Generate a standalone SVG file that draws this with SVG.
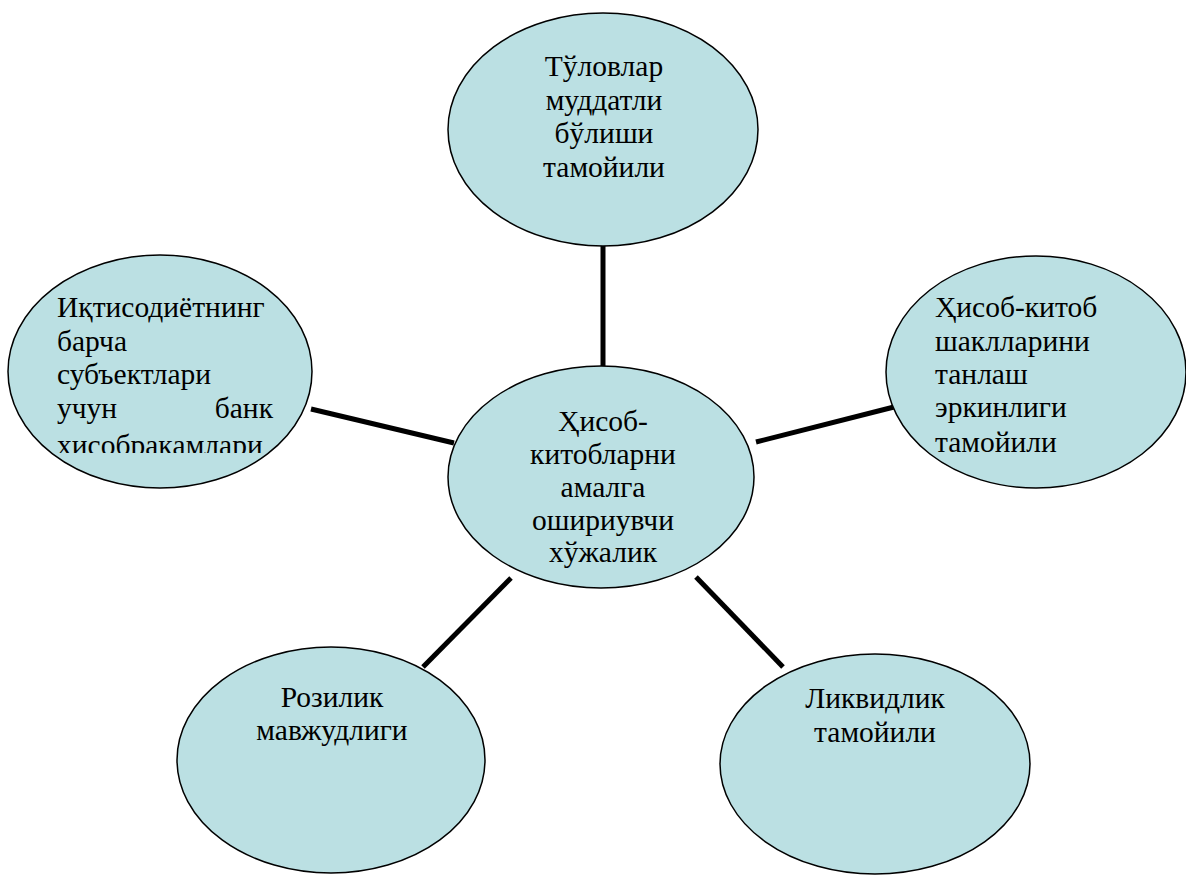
<svg xmlns="http://www.w3.org/2000/svg" width="1186" height="875" viewBox="0 0 1186 875">
<style>
.node ellipse{fill:#bbe0e3;stroke:#000;stroke-width:1.5}
.conn line{stroke:#000;stroke-width:5}
text{font-family:"Liberation Serif","Times New Roman",serif;font-size:29.5px;fill:#000}
.c{text-anchor:middle}
</style>
<defs>
<clipPath id="clipL"><rect x="0" y="280" width="330" height="173"/></clipPath>
<clipPath id="clipR"><rect x="880" y="280" width="306" height="175"/></clipPath>
</defs>
<rect width="1186" height="875" fill="#fff"/>
<g id="connectors" class="conn">
<line x1="603" y1="245" x2="603" y2="366"/>
<line x1="311" y1="409" x2="454" y2="443"/>
<line x1="756" y1="442" x2="894" y2="407"/>
<line x1="511" y1="578" x2="423" y2="667"/>
<line x1="696" y1="577" x2="783" y2="667"/>
</g>
<g id="node-top" class="node">
<ellipse cx="603" cy="129.5" rx="155" ry="116.5"/>
<text class="c" x="604" y="76">Тўловлар</text>
<text class="c" x="604" y="110">муддатли</text>
<text class="c" x="604" y="143">бўлиши</text>
<text class="c" x="604" y="177">тамойили</text>
</g>
<g id="node-left" class="node">
<ellipse cx="160" cy="371.5" rx="152" ry="116.5"/>
<g clip-path="url(#clipL)">
<text x="57" y="317">Иқтисодиётнинг</text>
<text x="57" y="350.5">барча</text>
<text x="57" y="384">субъектлари</text>
<text x="57" y="417.5">учун</text>
<text x="273" y="417.5" text-anchor="end">банк</text>
<text x="57" y="455">ҳисобрақамлари</text>
</g>
</g>
<g id="node-right" class="node">
<ellipse cx="1036" cy="372" rx="150" ry="116"/>
<g clip-path="url(#clipR)">
<text x="935" y="317">Ҳисоб-китоб</text>
<text x="935" y="351">шаклларини</text>
<text x="935" y="384">танлаш</text>
<text x="935" y="417">эркинлиги</text>
<text x="935" y="452">тамойили</text>
</g>
</g>
<g id="node-center" class="node">
<ellipse cx="601" cy="477" rx="153" ry="111"/>
<text class="c" x="603" y="431">Ҳисоб-</text>
<text class="c" x="603" y="464">китобларни</text>
<text class="c" x="603" y="497">амалга</text>
<text class="c" x="603" y="530">ошириувчи</text>
<text class="c" x="603" y="562">хўжалик</text>
</g>
<g id="node-bottom-left" class="node">
<ellipse cx="331" cy="760" rx="154" ry="113"/>
<text class="c" x="332" y="707">Розилик</text>
<text class="c" x="332" y="740">мавжудлиги</text>
</g>
<g id="node-bottom-right" class="node">
<ellipse cx="875" cy="764" rx="155" ry="110"/>
<text class="c" x="875" y="708">Ликвидлик</text>
<text class="c" x="875" y="742">тамойили</text>
</g>
</svg>
